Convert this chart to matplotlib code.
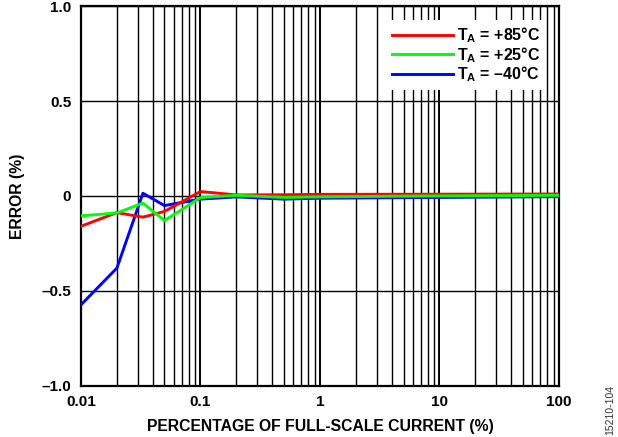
import matplotlib
matplotlib.use("Agg")
import matplotlib.pyplot as plt
from matplotlib.ticker import FixedLocator, LogLocator, NullFormatter

plt.rcParams['font.family'] = ['Liberation Sans', 'DejaVu Sans']
plt.rcParams['font.weight'] = 'bold'
plt.rcParams['mathtext.fontset'] = 'custom'
plt.rcParams['mathtext.bf'] = 'Liberation Sans:bold'
plt.rcParams['mathtext.rm'] = 'Liberation Sans:bold'

# percentage of full-scale current (%)
pct = [0.01, 0.02, 0.033, 0.05, 0.1, 0.2, 0.5, 1, 10, 100]

# error (%) per temperature
err_85 = [-0.16, -0.088, -0.112, -0.082, 0.023, 0.005, 0.006, 0.008, 0.009, 0.010]
err_25 = [-0.105, -0.09, -0.038, -0.13, -0.009, 0.003, -0.008, -0.005, 0.0, 0.003]
err_m40 = [-0.574, -0.38, 0.014, -0.051, -0.017, -0.005, -0.017, -0.012, -0.008, -0.004]

x_ticks = [0.01, 0.1, 1, 10, 100]
x_tick_labels = ['0.01', '0.1', '1', '10', '100']
y_ticks = [-1.0, -0.5, 0, 0.5, 1.0]
y_tick_labels = ['\u20131.0', '\u20130.5', '0', '0.5', '1.0']

fig = plt.figure(figsize=(6.18, 4.37), dpi=100)
ax = fig.add_axes([0.131, 0.1174, 0.7735, 0.8686])

ax.plot(pct, err_m40, color='#0000ff', lw=2.1, label=r'$\mathbf{T_A}$ = ' + '\u201340°C', zorder=3)
ax.plot(pct, err_85, color='#ff0000', lw=2.1, label=r'$\mathbf{T_A}$ = +85°C', zorder=4)
ax.plot(pct, err_25, color='#00ff00', lw=2.1, label=r'$\mathbf{T_A}$ = +25°C', zorder=5)

ax.set_xscale('log')
ax.set_xlim(0.01, 100)
ax.set_ylim(-1.0, 1.0)
ax.xaxis.set_major_locator(FixedLocator(x_ticks))
ax.set_xticklabels(x_tick_labels)
ax.xaxis.set_minor_locator(LogLocator(base=10, subs=range(2, 10)))
ax.xaxis.set_minor_formatter(NullFormatter())
ax.set_yticks(y_ticks)
ax.set_yticklabels(y_tick_labels)

ax.grid(which='major', axis='x', color='black', lw=1.4)
ax.grid(which='minor', axis='x', color='black', lw=1.0)
ax.grid(which='major', axis='y', color='black', lw=1.0)
ax.tick_params(which='both', length=0, labelsize=11, pad=7)
for s in ax.spines.values():
    s.set_linewidth(1.6)

ax.set_xlabel('PERCENTAGE OF FULL-SCALE CURRENT (%)', fontsize=11.3, fontweight='bold', labelpad=7)
ax.set_ylabel('ERROR (%)', fontsize=11.3, fontweight='bold', labelpad=12)

handles, labels = ax.get_legend_handles_labels()
order = [1, 2, 0]
leg = ax.legend([handles[i] for i in order], [labels[i] for i in order],
                loc='upper right', bbox_to_anchor=(0.99, 0.985), fontsize=11.5,
                handlelength=3.8, handletextpad=0.3, labelspacing=0.0,
                borderpad=0.35, frameon=True, fancybox=False, framealpha=1)
leg.get_frame().set_edgecolor('none')
leg.set_zorder(6)

fig.text(0.987, 0.005, '15210-104', rotation=90, fontsize=7.5, fontweight='normal',
         color='#333333', ha='center', va='bottom')

fig.savefig('out.png', dpi=100)
